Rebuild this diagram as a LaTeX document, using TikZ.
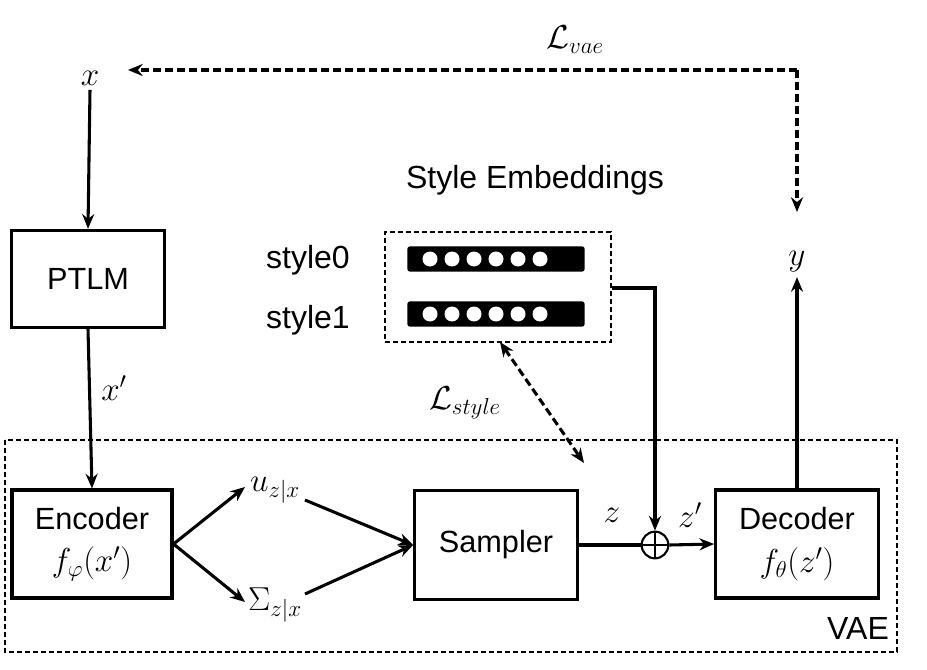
\documentclass[tikz,border=0pt]{standalone}
\usepackage{fontspec}
\setmainfont{Liberation Sans}
\usetikzlibrary{arrows.meta}
\begin{document}
\begin{tikzpicture}[x=0.75pt,y=-0.75pt,
  box/.style={draw,line width=2.3pt,inner sep=0pt,font=\fontsize{23}{32}\selectfont,align=center},
  arr/.style={line width=2.3pt,-{Stealth[length=11pt,width=9pt]}},
  darr/.style={line width=2.3pt,dash pattern=on 6pt off 3pt,-{Stealth[length=11pt,width=9pt]}},
  lab/.style={font=\fontsize{26}{30}\selectfont},
  txt/.style={font=\fontsize{24}{28}\selectfont}]
\useasboundingbox (0,0) rectangle (927,670);
\node[lab] (x) at (90,78) {$x$};
\node[box,minimum width=115pt,minimum height=73pt] (ptlm) at (88,279) {PTLM};
\node[box,minimum width=120pt,minimum height=81pt] (enc) at (92,544) {Encoder\\$f_\varphi(x')$};
\node[box,minimum width=122pt,minimum height=82pt] (samp) at (496,545) {Sampler};
\node[box,minimum width=122pt,minimum height=81pt] (dec) at (797,544) {Decoder\\$f_\theta(z')$};
\node[lab] (y) at (797,262) {$y$};
\node[lab] (xp) at (114,388) {$x'$};
\node[lab] (u) at (275,490) {$u_{z|x}$};
\node[lab] (s) at (275,605) {$\Sigma_{z|x}$};
\node[lab] (zl) at (612,515) {$z$};
\node[lab] (zpl) at (690,515) {$z'$};
\node[lab] (lv) at (575,40) {$\mathcal{L}_{vae}$};
\node[lab] (ls) at (465,403) {$\mathcal{L}_{style}$};
\node[txt] (se) at (535,180) {Style Embeddings};
\node[txt] (s0) at (308,260) {style0};
\node[txt] (s1) at (308,320) {style1};
\node[txt] (vae) at (858,628) {VAE};
\node[draw,circle,line width=1.6pt,minimum size=20pt,inner sep=0pt] (op) at (655,545) {};
\draw[line width=1.6pt] (op.north)--(op.south) (op.west)--(op.east);
% style box
\node[draw,dash pattern=on 4pt off 2pt,line width=1.5pt,minimum width=170pt,minimum height=82pt] (sb) at (498,287) {};
\foreach \yy/\nm in {259/e0,314/e1}{
  \node[fill=black,rounded corners=2pt,minimum width=133pt,minimum height=19pt,inner sep=0pt] (\nm) at (496,\yy) {};
  \foreach \i in {0,...,5} \fill[white] (430+\i*22,\yy) circle (7.5);
}
% VAE box
\draw[dash pattern=on 4pt off 2pt,line width=1.5pt] (5,440) rectangle (897,652);
% connectors
\draw[arr] (x.south) -- (ptlm.north);
\draw[arr] (ptlm.south) -- (enc.north);
\coordinate (ua) at (245,487); \coordinate (sa) at (245,602);
\draw[arr] (enc.east) -- (ua);
\draw[arr] (enc.east) -- (sa);
\coordinate (ub) at (305,500); \coordinate (sbb) at (305,594);
\draw[arr] (ub) -- (samp.west);
\draw[arr] (sbb) -- (samp.west);
\draw[line width=2.3pt] (samp.east) -- (op.west);
\draw[arr] (op.east) -- (dec.west);
\draw[arr] (dec.north) -- (y.south);
\coordinate (c1) at (655,288);
\draw[arr] (sb.east |- c1) -- (c1) -- (op.north);
\coordinate (vt) at (797,70); \coordinate (vb) at (797,212); \coordinate (vl) at (128,70);
\draw[darr] (vt) -- (vb);
\draw[darr] (vt) -- (vl);
\coordinate (st1) at (500,342); \coordinate (st2) at (584,463);
\draw[darr,{Stealth[length=11pt,width=9pt]}-{Stealth[length=11pt,width=9pt]}] (st1) -- (st2);
\end{tikzpicture}
\end{document}
